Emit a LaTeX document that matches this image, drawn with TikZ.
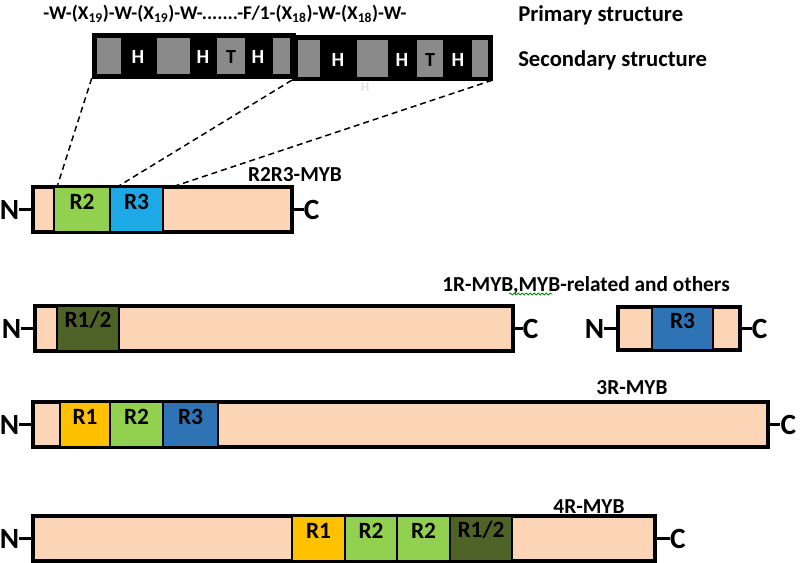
\documentclass[tikz,border=0pt]{standalone}
\usepackage{fontspec}
\setmainfont{Carlito}
\usetikzlibrary{fit,positioning,decorations.pathmorphing}
\definecolor{beige}{HTML}{FBD5B5}
\definecolor{dgreen}{HTML}{92D050}
\definecolor{cyanb}{HTML}{1CA9E6}
\definecolor{darkb}{HTML}{2E74B5}
\definecolor{yellowr}{HTML}{FFC000}
\definecolor{olive}{HTML}{4F6228}
\definecolor{cellgray}{HTML}{8A8A8A}
\begin{document}
\begin{tikzpicture}[x=0.75pt,y=-0.75pt,
  prot/.style={draw=black, line width=2.4pt, fill=beige, inner sep=0pt},
  dom/.style={draw=black, line width=2.2pt, inner sep=0pt, font=\fontsize{17.5}{17.5}\selectfont\bfseries},
  term/.style={font=\fontsize{22}{22}\selectfont\bfseries, inner sep=0pt},
  tail/.style={line width=2.6pt},
  lab/.style={font=\fontsize{16}{16}\selectfont\bfseries, inner sep=0pt},
  seg/.style={fill=black, draw=black, inner sep=0pt},
  cell/.style={fill=cellgray, inner sep=0pt},
  hl/.style={text=white, font=\fontsize{15}{15}\selectfont\bfseries, inner sep=0pt},
  tl/.style={text=black, font=\fontsize{15}{15}\selectfont\bfseries, inner sep=0pt},
  conn/.style={line width=1.1pt, dash pattern=on 4.5pt off 3pt}]
\useasboundingbox (0,0) rectangle (800,563);

% ---------- header texts ----------
\node[lab, font=\fontsize{14.5}{14.5}\selectfont\bfseries] (seq) at (225,14)
  {-W-(X\textsubscript{19})-W-(X\textsubscript{19})-W-.......-F/1-(X\textsubscript{18})-W-(X\textsubscript{18})-W-};
\node[lab, anchor=west, font=\fontsize{17}{17}\selectfont\bfseries] (prim) at (518,15) {Primary structure};
\node[lab, anchor=west, font=\fontsize{17}{17}\selectfont\bfseries] (sec) at (518,60) {Secondary structure};

% ---------- secondary structure bar ----------
\node[seg, fit={(92,33) (295,78)}] (s1) {};
\node[seg, fit={(292,35) (492,80)}] (s2) {};
\node[cell, fit={(97,38) (121,74)}] (c1) {};
\node[hl] (h1) at (138,57) {H};
\node[cell, fit={(157,38) (190,74)}] (c2) {};
\node[hl] (h2) at (203,57) {H};
\node[cell, fit={(217,38) (245,74)}] (c3) {};
\node[tl] (t1) at (231,57) {T};
\node[hl] (h3) at (258,57) {H};
\node[cell, fit={(273,38) (290,74)}] (c4) {};
\node[cell, fit={(298,40) (320,77)}] (c5) {};
\node[hl] (h4) at (338,60) {H};
\node[cell, fit={(357,40) (388,77)}] (c6) {};
\node[hl] (h5) at (402,60) {H};
\node[cell, fit={(417,40) (443,77)}] (c7) {};
\node[tl] (t2) at (430,60) {T};
\node[hl] (h6) at (458,60) {H};
\node[cell, fit={(472,40) (488,77)}] (c8) {};
\node[hl, text=black!12, font=\fontsize{10}{10}\selectfont\bfseries] (hf) at (365,87) {H};

% ---------- R2R3-MYB ----------
\node[lab] (l1) at (295,175) {R2R3-MYB};
\node[prot, fit={(33,187) (292,232)}] (p1) {};
\node[dom, fill=dgreen, fit={(54,187) (110,232)}] (p1a) {R2};
\node[dom, fill=cyanb, fit={(110,187) (163,232)}] (p1b) {R3};
\node[term, left=9pt of p1] (n1) {N};
\node[term, right=7.5pt of p1] (k1) {C};
\draw[tail] (n1.east) -- (p1.west);
\draw[tail] (p1.east) -- (k1.west);

% dashed zoom lines
\coordinate (z1) at (57,187);
\coordinate (z2) at (117,187);
\coordinate (z3) at (172,187);
\draw[conn] (s1.south west) -- (z1);
\draw[conn] (s2.south west) -- (z2);
\draw[conn] (s2.south east) -- (z3);

% ---------- 1R-MYB ----------
\node[lab] (l2) at (586,285) {1R-MYB,MYB-related and others};
\draw[green!55!black, line width=0.6pt, decorate, decoration={snake, amplitude=0.7pt, segment length=3pt}] (509,294) -- (552,294);
\node[prot, fit={(35,306) (513,351)}] (p2) {};
\node[dom, fill=olive, fit={(57,306) (119,351)}] (p2a) {R1/2};
\node[term, left=9pt of p2] (n2) {N};
\node[term, right=6pt of p2] (k2) {C};
\draw[tail] (n2.east) -- (p2.west);
\draw[tail] (p2.east) -- (k2.west);

\node[prot, fit={(618,307) (740,350)}] (p3) {};
\node[dom, fill=darkb, fit={(652,307) (713,350)}] (p3a) {R3};
\node[term, left=9pt of p3] (n3) {N};
\node[term, right=7.5pt of p3] (k3) {C};
\draw[tail] (n3.east) -- (p3.west);
\draw[tail] (p3.east) -- (k3.west);

% ---------- 3R-MYB ----------
\node[lab] (l3) at (632,388) {3R-MYB};
\node[prot, fit={(33,402) (768,447)}] (p4) {};
\node[dom, fill=yellowr, fit={(60,402) (110,447)}] (p4a) {R1};
\node[dom, fill=dgreen, fit={(110,402) (163,447)}] (p4b) {R2};
\node[dom, fill=darkb, fit={(163,402) (218,447)}] (p4c) {R3};
\node[term, left=9pt of p4] (n4) {N};
\node[term, right=8pt of p4] (k4) {C};
\draw[tail] (n4.east) -- (p4.west);
\draw[tail] (p4.east) -- (k4.west);

% ---------- 4R-MYB ----------
\node[lab] (l4) at (589,507) {4R-MYB};
\node[prot, fit={(33,516) (655,561)}] (p5) {};
\node[dom, fill=yellowr, fit={(292,516) (345,561)}] (p5a) {R1};
\node[dom, fill=dgreen, fit={(345,516) (397,561)}] (p5b) {R2};
\node[dom, fill=dgreen, fit={(397,516) (450,561)}] (p5c) {R2};
\node[dom, fill=olive, fit={(450,516) (512,561)}] (p5d) {R1/2};
\node[term, left=9pt of p5] (n5) {N};
\node[term, right=10pt of p5] (k5) {C};
\draw[tail] (n5.east) -- (p5.west);
\draw[tail] (p5.east) -- (k5.west);
\end{tikzpicture}
\end{document}
